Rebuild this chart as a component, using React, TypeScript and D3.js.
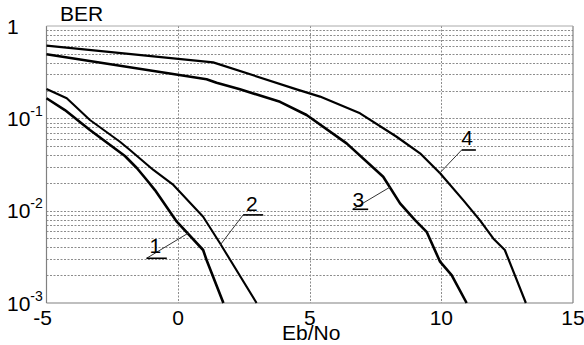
import React, { useEffect, useRef } from 'react';
import * as d3 from 'd3';

// BER curves: [Eb/No, BER]
const curve1: [number, number][] = [
    [-5, 0.165], [-4.3, 0.123], [-3.35, 0.0748], [-2.02, 0.0391], [-1.57, 0.029],
    [-1.19, 0.0215], [-0.88, 0.0167], [-0.05, 0.0076], [0.95, 0.00375], [1.08, 0.00292], [1.72, 0.001],
];
const curve2: [number, number][] = [
    [-5, 0.208], [-4.23, 0.165], [-3.35, 0.0959], [-2.21, 0.0558], [-1.83, 0.0454],
    [-0.94, 0.0276], [-0.18, 0.019], [0.95, 0.0086], [1.59, 0.00444], [2.98, 0.001],
];
const curve3: [number, number][] = [
    [-5, 0.494], [1.08, 0.265], [1.46, 0.243], [2.35, 0.206], [3.87, 0.151], [4.88, 0.1086],
    [6.4, 0.0536], [7.79, 0.0233], [8.43, 0.012], [9.0, 0.0079], [9.44, 0.0059],
    [9.95, 0.0028], [10.39, 0.002], [10.96, 0.001],
];
const curve4: [number, number][] = [
    [-5, 0.612], [1.33, 0.404], [4.5, 0.206], [5.39, 0.172], [6.91, 0.1133], [8.3, 0.0632],
    [9.19, 0.0418], [9.95, 0.0254], [10.83, 0.013], [11.46, 0.0079], [11.97, 0.005],
    [12.41, 0.00375], [12.79, 0.002], [13.21, 0.001],
];

const xTicks = [-5, 0, 5, 10, 15];
const yDecades = [1, 1e-1, 1e-2, 1e-3];
const yDecadeExp = ['', '-1', '-2', '-3'];

// curve labels: name, text position, underline start/end x, underline y, pointer tip
const labels = [
    { name: '1', tx: -0.87, ty: 0.00344, u0: -1.2, u1: -0.43, uy: 0.00305, px: 0.38, py: 0.0057 },
    { name: '2', tx: 2.8, ty: 0.0098, u0: 2.47, u1: 3.23, uy: 0.0090, px: 1.6, py: 0.00425 },
    { name: '3', tx: 6.85, ty: 0.011, u0: 6.63, u1: 7.22, uy: 0.01035, px: 8.05, py: 0.018 },
    { name: '4', tx: 10.98, ty: 0.0514, u0: 10.77, u1: 11.31, uy: 0.0454, px: 9.93, py: 0.0254 },
];

const App = () => {
    const svgRef = useRef<SVGSVGElement>(null);

    useEffect(() => {
        const width = 584;
        const height = 345;
        const font = '"Liberation Sans", Arial, sans-serif';
        const fs = '21px';

        const svg = d3.select(svgRef.current);
        svg.selectAll('*').remove();
        svg.attr('width', width).attr('height', height);

        const x = d3.scaleLinear().domain([-5, 15]).range([46.5, 573]);
        const y = d3.scaleLog().domain([1e-3, 1]).range([303, 26]);

        svg.append('rect').attr('width', width).attr('height', height).attr('fill', '#fff');

        // horizontal grid on every 1..9 x decade
        const hGrid: number[] = [];
        [1e-3, 1e-2, 1e-1].forEach(dec => {
            for (let k = 1; k <= 9; k++) hGrid.push(dec * k);
        });
        const gridColor = '#8c8c8c';
        svg.append('g').selectAll('line')
            .data(hGrid.filter(v => v > 1.0001e-3))
            .enter().append('line')
            .attr('x1', x(-5)).attr('x2', x(15))
            .attr('y1', d => Math.round(y(d)) + 0.5)
            .attr('y2', d => Math.round(y(d)) + 0.5)
            .attr('stroke', gridColor)
            .attr('stroke-width', 1)
            .attr('stroke-dasharray', '2,1.5');

        svg.append('g').selectAll('line')
            .data([0, 5, 10])
            .enter().append('line')
            .attr('x1', d => Math.round(x(d)) + 0.5).attr('x2', d => Math.round(x(d)) + 0.5)
            .attr('y1', y(1)).attr('y2', y(1e-3))
            .attr('stroke', gridColor)
            .attr('stroke-width', 1)
            .attr('stroke-dasharray', '2,1.5');

        // axis frame
        const frame = svg.append('g').attr('stroke', '#808080').attr('stroke-width', 1.2).attr('fill', 'none');
        frame.append('line').attr('x1', x(-5)).attr('x2', x(-5)).attr('y1', y(1)).attr('y2', y(1e-3));
        frame.append('line').attr('x1', x(15)).attr('x2', x(15)).attr('y1', y(1)).attr('y2', y(1e-3));
        frame.append('line').attr('x1', x(-5)).attr('x2', x(15)).attr('y1', y(1e-3)).attr('y2', y(1e-3));
        frame.append('line').attr('x1', x(-5)).attr('x2', x(15)).attr('y1', y(1)).attr('y2', y(1))
            .attr('stroke', '#aaa').attr('stroke-width', 1);

        // curves
        const line = d3.line<[number, number]>()
            .x(d => x(d[0]))
            .y(d => y(d[1]));
        const curves = [
            { data: curve1, w: 2.6 },
            { data: curve2, w: 2.1 },
            { data: curve3, w: 2.6 },
            { data: curve4, w: 2.2 },
        ];
        svg.append('g').selectAll('path')
            .data(curves)
            .enter().append('path')
            .attr('d', d => line(d.data))
            .attr('fill', 'none')
            .attr('stroke', '#000')
            .attr('stroke-width', d => d.w)
            .attr('stroke-linejoin', 'round');

        // curve labels with leaders
        const lab = svg.append('g').selectAll('g').data(labels).enter().append('g');
        lab.append('line')
            .attr('x1', d => x(d.u0)).attr('x2', d => x(d.px))
            .attr('y1', d => y(d.uy)).attr('y2', d => y(d.py))
            .attr('stroke', '#333').attr('stroke-width', 1);
        lab.append('line')
            .attr('x1', d => x(d.u0)).attr('x2', d => x(d.u1))
            .attr('y1', d => y(d.uy)).attr('y2', d => y(d.uy))
            .attr('stroke', '#000').attr('stroke-width', 1.6);
        lab.append('text')
            .attr('x', d => x(d.tx)).attr('y', d => y(d.ty))
            .attr('text-anchor', 'middle')
            .style('font-family', font).style('font-size', fs)
            .text(d => d.name);

        // x tick labels
        svg.append('g').selectAll('text')
            .data(xTicks)
            .enter().append('text')
            .attr('x', d => x(d) - (d < 0 ? 4 : 0))
            .attr('y', 325)
            .attr('text-anchor', 'middle')
            .style('font-family', font).style('font-size', fs)
            .text(d => String(d));

        // y tick labels
        const yl = svg.append('g').selectAll('text')
            .data(yDecades)
            .enter().append('text')
            .attr('x', 7)
            .attr('y', d => y(d) + 7.5)
            .style('font-family', font).style('font-size', fs);
        yl.append('tspan').text((d, i) => (i === 0 ? '1' : '10'));
        yl.filter((d, i) => i > 0).append('tspan')
            .attr('dy', -10)
            .style('font-size', '14px')
            .text((d, i) => yDecadeExp[i + 1]);

        // axis titles
        svg.append('text')
            .attr('x', 60).attr('y', 21)
            .style('font-family', font).style('font-size', fs)
            .text('BER');
        svg.append('text')
            .attr('x', 282).attr('y', 340)
            .style('font-family', font).style('font-size', fs)
            .text('Eb/No');
    }, []);

    return (
        <svg ref={svgRef} style={{ position: 'absolute', left: 0, top: 0 }}></svg>
    );
};

export default App;
